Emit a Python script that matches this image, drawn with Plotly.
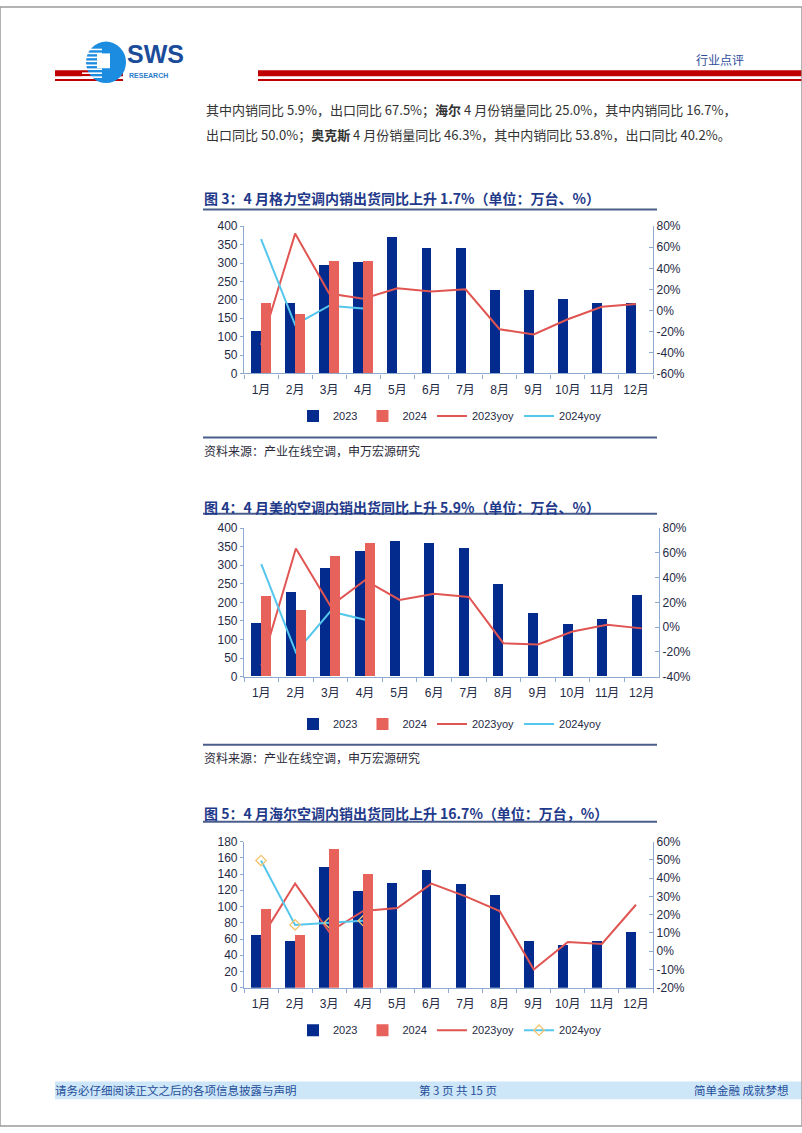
import plotly.graph_objects as go

W, H = 802, 1133

months = ["1月", "2月", "3月", "4月", "5月", "6月", "7月", "8月", "9月", "10月", "11月", "12月"]

# 图3 格力
gree_2023 = [114, 190, 295, 301, 371, 341, 341, 225, 225, 201, 190, 190]
gree_2024 = [190, 161, 306, 306]
gree_2023yoy = [-33, 73, 16, 11, 21, 18, 20, -18, -23, -8.5, 3.4, 6]
gree_2024yoy = [67.8, -13.7, 4.4, 1.7]

# 图4 美的
midea_2023 = [145, 228, 291, 339, 366, 360, 345, 249, 171, 140, 156, 220]
midea_2024 = [217, 179, 325, 360]
midea_2023yoy = [-31, 63.6, 17, 38, 22, 27, 24.4, -13, -14, -3.5, 2, -1]
midea_2024yoy = [51, -20.3, 12.7, 5.9]

# 图5 海尔
haier_2023 = [66, 58, 149, 120, 130, 145, 128, 115, 58, 53, 58, 69]
haier_2024 = [98, 65, 171, 140]
haier_2023yoy = [7, 37, 10.5, 22, 23.6, 37, 30, 22, -10, 5, 4, 25.4]
haier_2024yoy = [49.6, 14.4, 15.5, 16.7]

NAVY = "#032B8E"
SALMON = "#E8625C"
RED = "#E05552"
CYAN = "#55C6EC"
AXIS = "#8EAAD1"
TXT = "#1F2A44"
TITLE = "#1F3A8A"
CJK = "Noto Sans CJK SC"
SANS = "Liberation Sans, Noto Sans CJK SC"


def px(x):
    return x / W


def py(y):
    return 1 - y / H


fig = go.Figure()
layout = {}


def add_chart(n, x_left, x_right, y_top, y_bot, v23, v24, yoy23, yoy24,
              lmax, ldtick, rticks, legend_y, marker24=False):
    k = 3 * (n - 1)
    xa = "x" if n == 1 else "x%d" % n
    ya1 = "y" if k == 0 else "y%d" % (k + 1)
    ya2 = "y%d" % (k + 2)
    ya3 = "y%d" % (k + 3)
    leg = "legend" if n == 1 else "legend%d" % n

    fig.add_trace(go.Bar(x=months, y=v23, name="2023", xaxis=xa, yaxis=ya1,
                         marker=dict(color=NAVY, line=dict(width=0)),
                         width=0.29, offset=-0.29, legend=leg))
    fig.add_trace(go.Bar(x=months[:len(v24)], y=v24, name="2024", xaxis=xa, yaxis=ya3,
                         marker=dict(color=SALMON, line=dict(width=0)),
                         width=0.29, offset=0, legend=leg))
    fig.add_trace(go.Scatter(x=months, y=yoy23, name="2023yoy", xaxis=xa, yaxis=ya2,
                             mode="lines", line=dict(color=RED, width=2), legend=leg))
    if marker24:
        fig.add_trace(go.Scatter(x=months[:len(yoy24)], y=yoy24, name="2024yoy",
                                 xaxis=xa, yaxis=ya2, mode="lines+markers",
                                 line=dict(color=CYAN, width=2),
                                 marker=dict(symbol="diamond-open", size=8,
                                             color="#F3C46E", line=dict(width=1.3)),
                                 legend=leg))
    else:
        fig.add_trace(go.Scatter(x=months[:len(yoy24)], y=yoy24, name="2024yoy",
                                 xaxis=xa, yaxis=ya2, mode="lines",
                                 line=dict(color=CYAN, width=2), legend=leg))

    xdom = [px(x_left), px(x_right)]
    ydom = [py(y_bot), py(y_top)]
    xkey = "xaxis" if n == 1 else "xaxis%d" % n
    layout[xkey] = dict(domain=xdom, anchor=ya1, type="category", range=[-0.5, 11.5],
                        showline=True, linecolor=AXIS, linewidth=1.2,
                        ticks="outside", tickson="boundaries", ticklen=4, tickcolor=AXIS,
                        tickangle=0, ticklabelstandoff=5,
                        tickfont=dict(size=12, color=TXT), showgrid=False, fixedrange=True)
    k1 = "yaxis" if k == 0 else "yaxis%d" % (k + 1)
    layout[k1] = dict(domain=ydom, anchor=xa, range=[0, lmax], dtick=ldtick, tick0=0,
                      showline=True, linecolor=AXIS, linewidth=1.2, ticks="outside",
                      ticklen=3, tickcolor=AXIS, showgrid=False, zeroline=False,
                      tickfont=dict(size=12, color=TXT))
    layout["yaxis%d" % (k + 2)] = dict(domain=ydom, anchor=xa, overlaying=ya1, side="right",
                                       range=[rticks[0], rticks[-1]], tickvals=rticks,
                                       ticktext=["%d%%" % v for v in rticks],
                                       showline=True, linecolor=AXIS, linewidth=1.2,
                                       ticks="inside", ticklen=4, tickcolor=AXIS,
                                       showgrid=False, zeroline=False,
                                       tickfont=dict(size=12, color=TXT))
    layout["yaxis%d" % (k + 3)] = dict(domain=ydom, anchor=xa, overlaying=ya1,
                                       range=[0, lmax], visible=False)
    layout[leg] = dict(orientation="h", x=px(450), xanchor="center", y=py(legend_y),
                       yanchor="middle", font=dict(size=11, color=TXT),
                       bgcolor="rgba(0,0,0,0)", itemwidth=30, tracegroupgap=0)


add_chart(1, 244, 653, 222, 371, gree_2023, gree_2024, gree_2023yoy, gree_2024yoy,
          400, 50, [-60, -40, -20, 0, 20, 40, 60, 80], 414)
add_chart(2, 244, 659, 527.7, 678, midea_2023, midea_2024, midea_2023yoy, midea_2024yoy,
          400, 50, [-40, -20, 0, 20, 40, 60, 80], 726)
add_chart(3, 244, 653, 845, 993, haier_2023, haier_2024, haier_2023yoy, haier_2024yoy,
          180, 20, [-20, -10, 0, 10, 20, 30, 40, 50, 60], 1036, marker24=True)

shapes = []
ann = []


def rect(x0, y0, x1, y1, color, line=None):
    shapes.append(dict(type="rect", xref="paper", yref="paper", x0=px(x0), x1=px(x1),
                       y0=py(y1), y1=py(y0), fillcolor=color,
                       line=dict(width=0) if line is None else line, layer="above"))


def hline(x0, x1, y, color, width):
    shapes.append(dict(type="line", xref="paper", yref="paper", x0=px(x0), x1=px(x1),
                       y0=py(y), y1=py(y), line=dict(color=color, width=width)))


def text(x, y, s, size, color, xanchor="left", family=CJK):
    ann.append(dict(xref="paper", yref="paper", x=px(x), y=py(y), text=s, showarrow=False,
                    xanchor=xanchor, yanchor="middle", borderpad=0,
                    font=dict(size=size, color=color, family=family)))


# header
rect(55, 64, 123, 70, "#C00000")
rect(55, 73, 123, 75, "#C00000")
rect(258, 64, 802, 70, "#C00000")
rect(258, 73, 802, 75, "#C00000")
shapes.append(dict(type="circle", xref="paper", yref="paper", x0=px(86), x1=px(126),
                   y0=py(77), y1=py(35), fillcolor="#1C8CE0", line=dict(width=0)))
for yy in [43, 47, 51, 55, 59, 63, 67, 71]:
    hline(82, 102, yy, "white", 1.6)
rect(97, 47, 110, 62, "white")
text(126, 48, "<b>SWS</b>", 25, "#1B4C9A", family="Liberation Sans")
text(128, 69, "<b>RESEARCH</b>", 7, "#2B7CCB", family="Liberation Sans")
text(720, 53, "行业点评", 12, "#2F4C9C", xanchor="center")

text(205, 104, "其中内销同比 5.9%，出口同比 67.5%；<b>海尔</b> 4 月份销量同比 25.0%，其中内销同比 16.7%，",
     13, "#333333")
text(205, 129, "出口同比 50.0%；<b>奥克斯</b> 4 月份销量同比 46.3%，其中内销同比 53.8%，出口同比 40.2%。",
     13, "#333333")

# chart titles and sources
titles = [
    (193, 205, "图 3：4 月格力空调内销出货同比上升 1.7%（单位：万台、%）"),
    (506, 513, "图 4：4 月美的空调内销出货同比上升 5.9%（单位：万台、%）"),
    (816, 825, "图 5：4 月海尔空调内销出货同比上升 16.7%（单位：万台，%）"),
]
for ty, ly, t in titles:
    text(203, ty, "<b>" + t + "</b>", 14, TITLE)
    hline(203, 657, ly, "#4A5E8C", 2)

for sy in [436, 747]:
    hline(203, 657, sy, "#4A5E8C", 2)
    text(203, sy + 13, "资料来源：产业在线空调，申万宏源研究", 12, "#2B2B3B")

# footer
rect(55, 1088, 802, 1106, "#CDE6F8")
text(54, 1097, "请务必仔细阅读正文之后的各项信息披露与声明", 11.5, "#1F4E9A")
text(458, 1097, "第 3 页 共 15 页", 11.5, "#1F4E9A", xanchor="center")
text(741, 1097, "简单金融 成就梦想", 11.5, "#1F4E9A", xanchor="center")

shapes.append(dict(type="rect", xref="paper", yref="paper", x0=0, x1=1, y0=0, y1=1,
                   line=dict(color="#9A9A9A", width=1.5), fillcolor="rgba(0,0,0,0)"))

fig.update_layout(
    width=W, height=H, margin=dict(l=0, r=0, t=0, b=0),
    paper_bgcolor="white", plot_bgcolor="white",
    font=dict(family=SANS, size=12, color=TXT),
    showlegend=True, bargap=0, shapes=shapes, annotations=ann,
    **layout
)

fig.write_html("out.html", config={"displayModeBar": False},
               post_script="document.body.style.margin='0';document.body.style.overflow='hidden';")
